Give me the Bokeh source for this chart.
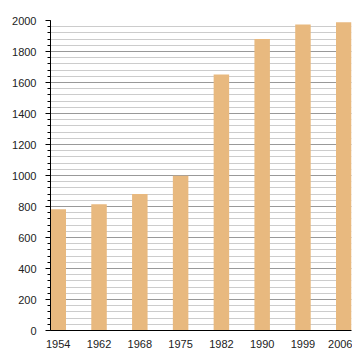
from bokeh.plotting import figure
from bokeh.models import Range1d, FixedTicker, SingleIntervalTicker
from bokeh.embed import file_html
from bokeh.resources import INLINE

years = ["1954", "1962", "1968", "1975", "1982", "1990", "1999", "2006"]
population = [783, 815, 880, 999, 1651, 1881, 1975, 1988]

idx = list(range(len(years)))

p = figure(width=352, height=352, output_backend="svg", toolbar_location=None,
           x_range=Range1d(-0.19, len(years) - 1 + 0.19), y_range=Range1d(0, 2000),
           min_border_left=50, min_border_right=1, min_border_top=20, min_border_bottom=22)
p.outline_line_color = None
p.background_fill_color = "white"

p.vbar(x=idx, top=population, width=0.38, fill_color="#E8B97F", line_color=None)

# y axis
yax = p.yaxis[0]
yax.ticker = SingleIntervalTicker(interval=200, num_minor_ticks=5)
yax.axis_line_color = "black"
yax.major_tick_out = 5
yax.major_tick_in = 0
yax.minor_tick_out = 3
yax.minor_tick_in = 0
yax.major_tick_line_color = "black"
yax.minor_tick_line_color = "black"
yax.major_label_text_font = "Liberation Sans"
yax.major_label_text_font_size = "11px"
yax.major_label_text_color = "#222222"
yax.major_label_standoff = 9

# x axis
xax = p.xaxis[0]
xax.ticker = FixedTicker(ticks=idx)
xax.major_label_overrides = {i: y for i, y in zip(idx, years)}
xax.axis_line_color = "black"
xax.major_tick_line_color = None
xax.minor_tick_line_color = None
xax.major_label_text_font = "Liberation Sans"
xax.major_label_text_font_size = "11px"
xax.major_label_text_color = "#222222"
xax.major_label_standoff = 3

p.xgrid.grid_line_color = None
p.ygrid.grid_line_color = "#999999"
p.ygrid.grid_line_width = 1
p.ygrid.minor_grid_line_color = "#cccccc"
p.ygrid.minor_grid_line_width = 1
p.ygrid.level = "underlay"

open("out.html", "w").write(file_html(p, INLINE))
